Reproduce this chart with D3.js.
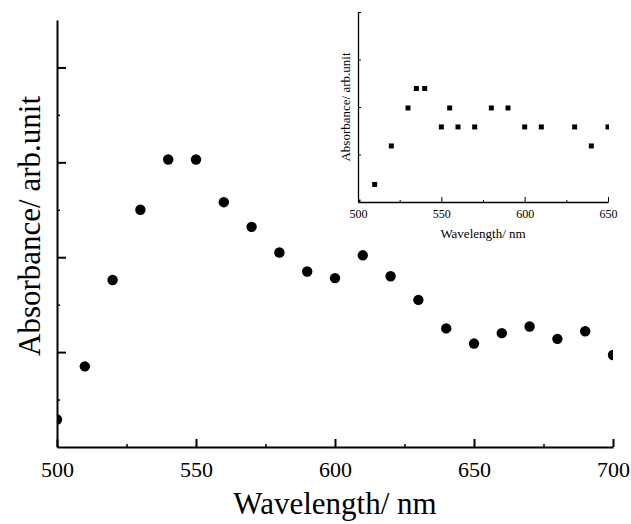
<!DOCTYPE html>
<html lang="en">
  <head>
    <meta charset="UTF-8" />
    <title>absorbance</title>
    <script src="https://d3js.org/d3.v7.min.js"></script>
    <style>
      body { margin: 0; background: #fff; }
      svg text { fill: #000; }
      .axis path, .axis line { stroke: #000; }
    </style>
  </head>
  <body>
    <script>
      // main spectrum (arb. units)
      var wl = [500, 510, 520, 530, 540, 550, 560, 570, 580, 590, 600, 610, 620, 630, 640, 650, 660, 670, 680, 690, 700];
      var absMain = [0.29, 0.85, 1.76, 2.5, 3.03, 3.03, 2.58, 2.32, 2.05, 1.85, 1.78, 2.02, 1.8, 1.55, 1.25, 1.09, 1.2, 1.27, 1.14, 1.22, 0.97];
      var xTicks = [500, 550, 600, 650, 700];

      // inset
      var wlInset = [500, 510, 520, 530, 535, 540, 550, 555, 560, 570, 580, 590, 600, 610, 630, 640, 650];
      var absInset = [0, 0.37, 1.18, 1.98, 2.39, 2.39, 1.58, 1.98, 1.58, 1.58, 1.98, 1.98, 1.58, 1.58, 1.58, 1.18, 1.58];
      var xTicksInset = [500, 550, 600, 650];

      var FONT = "'Liberation Serif', 'DejaVu Serif', Times, serif";
      var W = 631, H = 524;
      var svg = d3.select("body").append("svg").attr("width", W).attr("height", H)
        .attr("font-family", FONT);

      // ---- main plot
      var x = d3.scaleLinear().domain([500, 700]).range([57, 613]);
      var y = d3.scaleLinear().domain([0, 4.5]).range([447, 20]);

      svg.append("clipPath").attr("id", "clipMain")
        .append("rect").attr("x", 57).attr("y", 20).attr("width", 556).attr("height", 427);

      // minor ticks first
      svg.append("g").attr("class", "axis").attr("transform", "translate(0,447)")
        .call(d3.axisBottom(x).tickValues([525, 575, 625, 675]).tickSize(-3).tickFormat(""))
        .call(g => g.select(".domain").remove())
        .selectAll("line").attr("stroke-width", 1.5);
      svg.append("g").attr("class", "axis").attr("transform", "translate(57,0)")
        .call(d3.axisLeft(y).tickValues([0.5, 1.5, 2.5, 3.5]).tickSize(-3).tickFormat(""))
        .call(g => g.select(".domain").remove())
        .selectAll("line").attr("stroke-width", 1.5);

      var gx = svg.append("g").attr("class", "axis").attr("transform", "translate(0,447)")
        .call(d3.axisBottom(x).tickValues(xTicks).tickSizeInner(-8).tickSizeOuter(0).tickPadding(14).tickFormat(d3.format("d")));
      gx.attr("font-family", FONT);
      gx.select(".domain").attr("stroke-width", 2);
      gx.selectAll("line").attr("stroke-width", 2);
      gx.selectAll("text").attr("font-size", 22).attr("dy", "0.71em").attr("font-family", FONT);

      var gy = svg.append("g").attr("class", "axis").attr("transform", "translate(57,0)")
        .call(d3.axisLeft(y).tickValues([1, 2, 3, 4]).tickSizeInner(-9).tickSizeOuter(0).tickFormat(""));
      gy.select(".domain").attr("stroke-width", 2);
      gy.selectAll("line").attr("stroke-width", 2);

      svg.append("g").attr("clip-path", "url(#clipMain)")
        .selectAll("circle")
        .data(wl)
        .enter()
        .append("circle")
        .attr("cx", d => x(d))
        .attr("cy", (d, i) => y(absMain[i]))
        .attr("r", 5.2)
        .attr("fill", "#000");

      svg.append("text").attr("x", 335).attr("y", 514).attr("text-anchor", "middle")
        .attr("font-family", FONT).attr("font-size", 31).text("Wavelength/ nm");
      svg.append("text").attr("transform", "translate(40,226) rotate(-90)").attr("text-anchor", "middle")
        .attr("font-family", FONT).attr("font-size", 31).text("Absorbance/ arb.unit");

      // ---- inset
      var xi = d3.scaleLinear().domain([500, 650]).range([358, 608]);
      var yi = d3.scaleLinear().domain([0, 4]).range([202, 12]);

      svg.append("clipPath").attr("id", "clipInset")
        .append("rect").attr("x", 358).attr("y", 12).attr("width", 251).attr("height", 190);

      svg.append("g").attr("class", "axis").attr("transform", "translate(0,202)")
        .call(d3.axisBottom(xi).tickValues([525, 575, 625]).tickSize(-2).tickFormat(""))
        .call(g => g.select(".domain").remove());

      var gxi = svg.append("g").attr("class", "axis").attr("transform", "translate(0,202)")
        .call(d3.axisBottom(xi).tickValues(xTicksInset).tickSizeInner(-5).tickSizeOuter(0).tickPadding(7).tickFormat(d3.format("d")));
      gxi.attr("font-family", FONT);
      gxi.select(".domain").attr("stroke-width", 1.3);
      gxi.selectAll("text").attr("font-size", 12).attr("dy", "0.71em").attr("font-family", FONT);

      var gyi = svg.append("g").attr("class", "axis").attr("transform", "translate(358,0)")
        .call(d3.axisLeft(yi).tickValues([1, 2, 3, 4]).tickSizeInner(-3).tickSizeOuter(0).tickFormat(""));
      gyi.select(".domain").attr("stroke-width", 1.3);

      svg.append("g").attr("clip-path", "url(#clipInset)")
        .selectAll("rect")
        .data(wlInset)
        .enter()
        .append("rect")
        .attr("x", d => xi(d) - 2.5)
        .attr("y", (d, i) => yi(absInset[i]) - 2.5)
        .attr("width", 5)
        .attr("height", 5)
        .attr("fill", "#000");

      svg.append("text").attr("x", 483).attr("y", 238).attr("text-anchor", "middle")
        .attr("font-family", FONT).attr("font-size", 13).text("Wavelength/ nm");
      svg.append("text").attr("transform", "translate(350,107) rotate(-90)").attr("text-anchor", "middle")
        .attr("font-family", FONT).attr("font-size", 13).text("Absorbance/ arb.unit");
    </script>
  </body>
</html>
